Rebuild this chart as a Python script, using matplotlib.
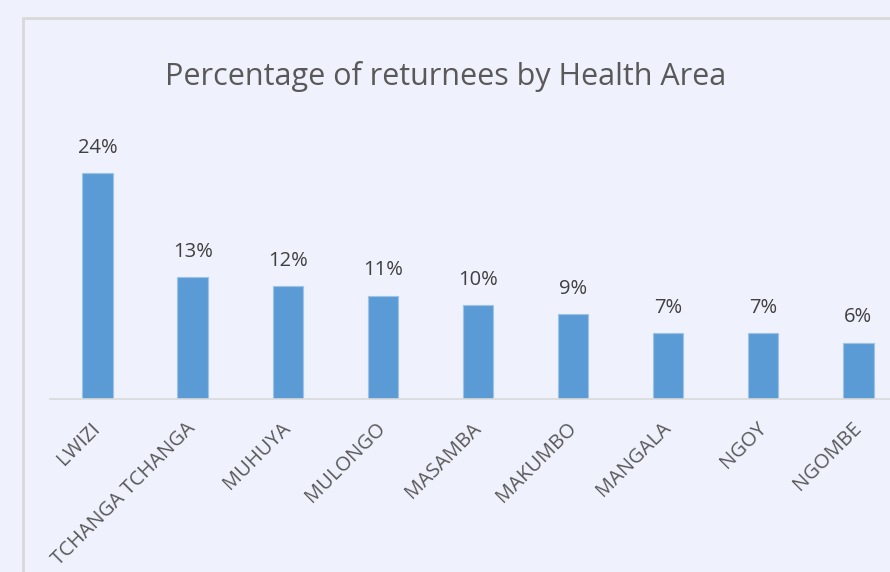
import matplotlib
matplotlib.use("Agg")
import matplotlib.pyplot as plt
from matplotlib.patches import Rectangle

areas = ["LWIZI", "TCHANGA TCHANGA", "MUHUYA", "MULONGO", "MASAMBA",
         "MAKUMBO", "MANGALA", "NGOY", "NGOMBE"]
pourcentages = [24, 13, 12, 11, 10, 9, 7, 7, 6]
etiquettes = ["24%", "13%", "12%", "11%", "10%", "9%", "7%", "7%", "6%"]

FOND = "#EFF1FD"
BARRE = "#5B9BD5"
TEXTE = "#595959"

plt.rcParams["font.family"] = ["Open Sans", "DejaVu Sans"]

W, H = 890, 572
fig = plt.figure(figsize=(W / 100, H / 100), dpi=100, facecolor=FOND)

# cadre du graphique (coupé à droite et en bas)
fig.patches.append(Rectangle((23 / W, -0.1), 1.2, (H - 18) / H + 0.1,
                             transform=fig.transFigure, fill=False,
                             edgecolor="#D9D9D9", linewidth=2, zorder=0))

# zone de tracé : gauche 50px, base 399px, 95px par catégorie
ax = fig.add_axes([50 / W, (H - 399) / H, 9 * 95.1 / W, 27 * 9.4 / H])
ax.set_facecolor("none")
x = range(len(areas))
barres = ax.bar(x, pourcentages, width=0.32, color=BARRE,
                edgecolor="#9DC3E6", linewidth=0.8)
ax.set_xlim(-0.5, len(areas) - 0.5)
ax.set_ylim(0, 27)

for b, txt in zip(barres, etiquettes):
    ax.annotate(txt, (b.get_x() + b.get_width() / 2, b.get_height()),
                xytext=(0, 11), textcoords="offset points",
                ha="center", va="bottom", fontsize=14.5, color="#404040")

ax.set_xticks(list(x))
ax.set_xticklabels(areas, rotation=45, ha="right", va="center",
                   rotation_mode="anchor", fontsize=14.5, color=TEXTE)
ax.tick_params(axis="x", length=0, pad=19)
ax.set_yticks([])
for cote in ["left", "right", "top"]:
    ax.spines[cote].set_visible(False)
ax.spines["bottom"].set_color("#D9D9D9")
ax.spines["bottom"].set_linewidth(1.2)

fig.text(446 / W, 1 - 77 / H, "Percentage of returnees by Health Area",
         ha="center", va="center", fontsize=22, color=TEXTE)

fig.savefig("out.png", dpi=100, facecolor=FOND)
plt.close(fig)
